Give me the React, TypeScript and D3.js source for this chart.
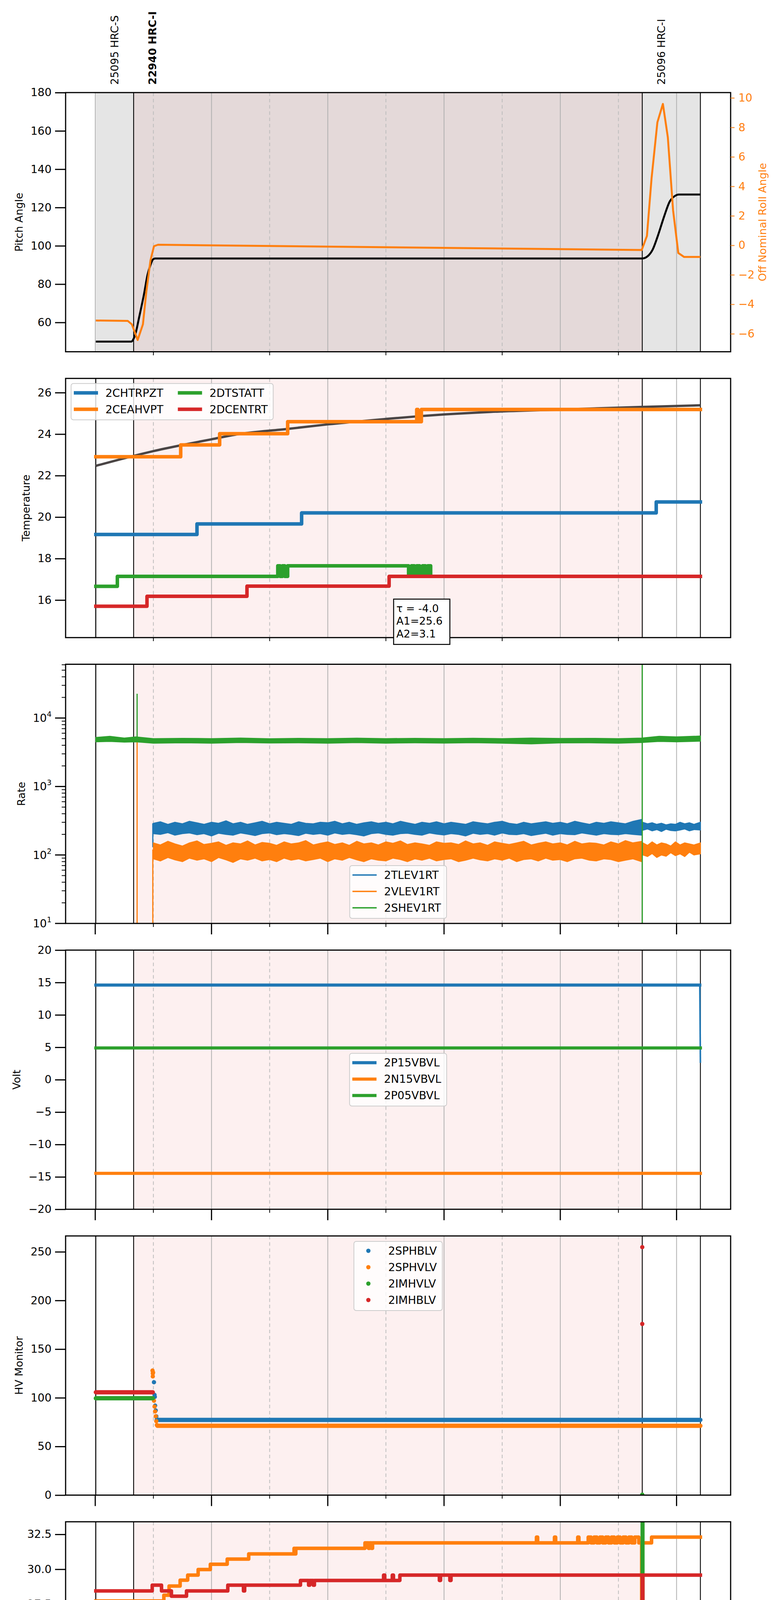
import React, { useRef, useEffect } from 'react';
import * as d3 from 'd3';

const FONT = "'DejaVu Sans', 'Liberation Sans', sans-serif";
const C_BLUE = '#1f77b4';
const C_ORANGE = '#ff7f0e';
const C_GREEN = '#2ca02c';
const C_RED = '#d62728';

// times are decimal hours on 2021-07-28
const tStart = 12.01;
const tObs1 = 12.66;
const tObs2 = 21.41;
const tEnd = 22.41;

const obsNames = ['25095 HRC-S', '22940 HRC-I', '25096 HRC-I'];
const obsTimes = [12.01, 12.66, 21.41];
const obsBold = [false, true, false];
const majorHours = [12, 14, 16, 18, 20, 22];
const minorHours = [13, 15, 17, 19, 21];

// panel 1: pitch / roll
const pitchT = [12.01, 12.62, 12.66, 12.70, 12.75, 12.84, 12.90, 12.95, 12.99, 13.03, 21.41, 21.50, 21.59, 21.68, 21.79, 21.88, 21.97, 22.04, 22.41];
const pitchV = [50, 50, 51.5, 55, 62, 75, 85, 90, 92.8, 93.4, 93.4, 94.5, 98.1, 105.4, 115.7, 123, 126, 126.8, 126.8];
const rollT = [12.01, 12.56, 12.63, 12.73, 12.82, 12.88, 12.95, 13.01, 13.08, 21.40, 21.49, 21.57, 21.67, 21.765, 21.85, 21.94, 22.03, 22.13, 22.41];
const rollV = [-5.1, -5.13, -5.36, -6.42, -5.36, -3.1, -1.03, -0.06, 0.04, -0.32, 0.63, 4.55, 8.34, 9.59, 7.32, 2.38, -0.52, -0.79, -0.79];

// panel 2: temperature
const fitT = [12.01, 12.66, 13.0, 13.47, 14.0, 14.4, 15.31, 16.0, 17.0, 17.6, 18.8, 19.95, 21.41, 22.41];
const fitV = [22.47, 22.95, 23.18, 23.46, 23.75, 23.97, 24.25, 24.47, 24.73, 24.87, 25.07, 25.18, 25.31, 25.39];
const chtrpztT = [12.01, 13.75, 15.55, 21.65];
const chtrpztV = [19.16, 19.67, 20.2, 20.73];
const ceahvptT = [12.01, 13.47, 14.14, 15.31, 17.53, 17.55, 17.61];
const ceahvptV = [22.91, 23.48, 24.02, 24.6, 25.19, 24.6, 25.19];
const dtstattT = [12.01, 12.38, 15.14, 15.18, 15.22, 15.26, 15.31, 17.39, 17.44, 17.49, 17.53, 17.58, 17.63, 17.68, 17.72, 17.77];
const dtstattV = [16.66, 17.14, 17.65, 17.14, 17.65, 17.14, 17.65, 17.14, 17.65, 17.14, 17.65, 17.14, 17.65, 17.14, 17.65, 17.14];
const dcentrtT = [12.01, 12.89, 14.61, 17.055];
const dcentrtV = [15.7, 16.18, 16.67, 17.14];
const fitText = ['\u03c4 = -4.0', 'A1=25.6', 'A2=3.1'];

// panel 3: rates (noisy bands, upper / lower envelope)
const rateT = [13.00, 13.12, 13.25, 13.37, 13.50, 13.62, 13.75, 13.87, 14.00, 14.12, 14.25, 14.37, 14.50, 14.62, 14.75, 14.87, 15.00, 15.12, 15.25, 15.37,
  15.50, 15.62, 15.75, 15.87, 16.00, 16.12, 16.25, 16.37, 16.50, 16.62, 16.75, 16.87, 17.00, 17.12, 17.25, 17.37, 17.50, 17.62, 17.75, 17.87,
  18.00, 18.12, 18.25, 18.37, 18.50, 18.62, 18.75, 18.87, 19.00, 19.12, 19.25, 19.37, 19.50, 19.62, 19.75, 19.87, 20.00, 20.12, 20.25, 20.37,
  20.50, 20.62, 20.75, 20.87, 21.00, 21.12, 21.25, 21.40];
const tlevHi = [290, 305, 280, 300, 285, 310, 295, 280, 300, 290, 315, 285, 300, 280, 295, 310, 285, 300, 290, 280,
  305, 290, 285, 300, 295, 310, 285, 300, 280, 295, 305, 290, 300, 285, 310, 295, 280, 300, 290, 305,
  285, 300, 290, 280, 305, 295, 285, 300, 310, 290, 280, 300, 285, 295, 305, 290, 300, 285, 310, 295,
  280, 300, 290, 305, 295, 285, 310, 330];
const tlevLo = [205, 200, 212, 195, 205, 210, 198, 205, 190, 208, 200, 195, 210, 202, 192, 205, 210, 198, 205, 200,
  192, 208, 200, 205, 195, 210, 200, 205, 198, 190, 205, 210, 200, 195, 205, 208, 200, 195, 210, 202,
  196, 205, 200, 190, 208, 200, 205, 195, 210, 200, 198, 205, 192, 200, 208, 195, 205, 200, 198, 210,
  202, 195, 205, 200, 198, 205, 200, 195];
const vlevHi = [150, 140, 158, 145, 135, 150, 160, 142, 148, 155, 138, 150, 145, 160, 140, 152, 148, 138, 155, 145,
  150, 162, 140, 148, 155, 142, 150, 138, 158, 145, 150, 140, 155, 148, 160, 142, 150, 145, 138, 155,
  148, 150, 142, 160, 145, 150, 138, 155, 148, 142, 150, 158, 140, 148, 155, 145, 150, 140, 158, 145,
  150, 148, 140, 155, 145, 162, 150, 158];
const vlevLo = [88, 82, 92, 85, 80, 90, 84, 88, 80, 92, 85, 78, 88, 84, 90, 82, 86, 80, 90, 84,
  88, 82, 86, 90, 80, 88, 84, 92, 85, 80, 88, 84, 82, 90, 86, 80, 88, 84, 90, 82,
  86, 88, 80, 84, 90, 85, 82, 88, 84, 90, 80, 86, 88, 82, 90, 84, 86, 80, 88, 90,
  84, 82, 88, 86, 80, 84, 88, 80];
const rateT2 = [21.42, 21.50, 21.58, 21.66, 21.74, 21.82, 21.90, 21.98, 22.06, 22.14, 22.22, 22.30, 22.41];
const tlevHi2 = [300, 285, 295, 280, 290, 275, 285, 280, 300, 285, 295, 280, 300];
const tlevLo2 = [230, 240, 225, 235, 220, 238, 228, 225, 232, 240, 225, 235, 232];
const vlevHi2 = [150, 138, 155, 140, 150, 145, 135, 155, 140, 150, 145, 140, 150];
const vlevLo2 = [100, 95, 105, 92, 100, 96, 108, 98, 104, 95, 110, 100, 104];
const shevT = [12.01, 12.25, 12.5, 12.7, 13.0, 13.5, 14.0, 14.5, 15.0, 15.5, 16.0, 16.5, 17.0, 17.5, 18.0, 18.5, 19.0, 19.5, 20.0, 20.5, 21.0, 21.4, 21.7, 22.0, 22.41];
const shevHi = [5200, 5400, 5100, 5300, 5000, 5050, 5000, 5100, 4980, 5050, 5000, 5080, 5000, 5050, 4990, 5060, 5000, 5100, 5020, 5050, 5000, 5100, 5400, 5300, 5450];
const shevLo = [4500, 4550, 4450, 4500, 4300, 4350, 4300, 4400, 4320, 4350, 4300, 4380, 4300, 4350, 4310, 4360, 4300, 4200, 4330, 4350, 4300, 4400, 4550, 4500, 4600];
const vlevEdgeT = [12.01, 12.72, 12.72, 12.99, 12.99];
const vlevEdgeV = [4700, 4700, 1, 1, 120];
const tlevEdgeT = [12.99, 12.99];
const tlevEdgeV = [130, 290];
const shevSpikeT = [12.72, 12.72, 21.41, 21.41];
const shevSpikeV = [4700, 22600, 1, 1e7];

// panel 4: voltages
const p15T = [12.01, 22.40, 22.41];
const p15V = [14.6, 14.6, 2.6];
const n15T = [12.01, 22.41];
const n15V = [-14.45, -14.45];
const p05T = [12.01, 22.41];
const p05V = [4.9, 4.9];

// panel 5: HV monitors (dense constant runs + single samples)
const sphblvRun = [13.07, 22.41, 77.3];
const sphvlvRun = [13.07, 22.41, 71.2];
const imhvlvRun = [12.01, 12.99, 99.5];
const imhblvRun = [12.01, 12.99, 105.7];
const sphblvT = [13.01, 13.02, 13.025, 13.03, 13.04, 13.05, 13.06];
const sphblvV = [116, 103, 101, 92, 87, 81, 78];
const sphvlvT = [12.985, 12.99, 12.99, 12.995, 13.01, 13.02, 13.03, 13.04, 13.05, 13.06];
const sphvlvV = [128, 125, 122, 126, 97, 91, 86, 81, 76, 72];
const imhvlvT = [21.41];
const imhvlvV = [0.5];
const imhblvT = [21.41, 21.41];
const imhblvV = [254.8, 175.9];

// panel 6: detector temps
const spinatmT = [12.01, 12.92, 14.42, 16.31];
const spinatmV = [15.1, 15.73, 16.35, 16.98];
const sphvatmT = [12.01, 13.18, 13.27, 13.46, 13.59, 13.77, 13.98, 14.27, 14.64, 15.42, 15.43, 15.45, 16.64, 16.70, 16.72, 16.75, 16.77,
  19.59, 19.61, 19.90, 19.92, 20.30, 20.32,
  20.48, 20.53, 20.58, 20.63, 20.68, 20.73, 20.78, 20.83, 20.88, 20.93, 20.98, 21.03, 21.08, 21.13, 21.18, 21.23, 21.28, 21.35,
  21.40, 21.41, 21.57];
const sphvatmV = [27.73, 28.14, 28.8, 29.22, 29.58, 29.98, 30.36, 30.73, 31.1, 31.5, 31.1, 31.5, 31.89, 31.5, 31.89, 31.5, 31.89,
  32.3, 31.89, 32.3, 31.89, 32.3, 31.89,
  32.3, 31.89, 32.3, 31.89, 32.3, 31.89, 32.3, 31.89, 32.3, 31.89, 32.3, 31.89, 32.3, 31.89, 32.3, 31.89, 32.3, 31.89,
  5, 31.89, 32.3];
const iminatmT = [12.01, 13.84, 13.87, 13.95, 21.41, 21.42];
const iminatmV = [16.97, 17.6, 16.97, 17.6, 40, 17.6];
const imhvatmT = [12.01, 12.98, 13.14, 13.31, 13.57, 14.28, 14.55, 14.57, 15.53, 15.67, 15.69, 15.75, 15.77, 16.96, 16.98, 17.11, 17.13, 17.24, 17.92, 17.94, 18.10, 18.12, 21.41, 21.42];
const imhvatmV = [28.45, 28.86, 28.45, 28.07, 28.45, 28.86, 28.45, 28.86, 29.2, 28.86, 29.2, 28.86, 29.2, 29.58, 29.2, 29.58, 29.2, 29.58, 29.2, 29.58, 29.2, 29.58, 5, 29.58];

// panel 7: FEA temps
const fhtrmztT = [12.01, 12.45, 13.81, 17.16, 20.55];
const fhtrmztV = [19.68, 20.21, 19.68, 19.16, 18.65];
const fradpytT = [12.01, 12.52, 12.72, 12.78, 12.93, 13.49, 16.24, 19.40, 22.2];
const fradpytV = [15.24, 15.72, 15.24, 15.72, 15.24, 14.78, 14.32, 13.87, 14.32];
const fepratmT = [12.01, 12.98, 13.01, 13.04, 13.07, 13.10, 13.13, 13.16, 13.19, 13.22, 13.25, 13.28, 13.31, 13.34, 13.37, 13.40, 13.45,
  18.08, 18.12, 18.32, 18.35, 18.38, 18.40, 18.42, 21.41, 21.42];
const fepratmV = [21.68, 22.47, 21.68, 22.47, 21.68, 22.47, 21.68, 22.47, 21.68, 22.47, 21.68, 22.47, 21.68, 22.47, 21.68, 22.47, 21.68,
  20.98, 21.68, 20.98, 21.68, 20.98, 21.68, 20.98, 40, 20.98];
const fe00atmT = [12.01, 14.56, 14.60, 14.64, 16.74, 16.79, 16.84, 16.88, 16.93, 18.98, 19.03, 19.08, 19.13, 19.18, 19.22, 19.27, 21.41, 21.42];
const fe00atmV = [20.48, 20.19, 20.48, 20.19, 19.87, 20.19, 19.87, 20.19, 19.87, 19.58, 19.87, 19.58, 19.87, 19.58, 19.87, 19.58, 5, 19.58];
const feSpikeT = [13.072, 13.141, 13.184, 13.252, 13.355, 14.317, 14.48, 14.695, 15.347, 15.664, 15.699, 15.888, 16.454, 16.635, 17.27, 17.52, 17.785,
  18.017, 18.017, 18.248, 18.403, 18.505, 18.626, 18.72, 18.951, 19.038, 19.089, 19.287, 19.407, 19.767, 19.879, 20.119, 20.119, 20.248, 20.463,
  20.523, 20.84, 21.124, 21.321, 21.682, 21.767, 21.913, 21.956, 22.05];
const feSpikeV = [20.83, 20.15, 21.42, 19.85, 20.83, 19.85, 20.83, 19.85, 21.42, 19.55, 20.83, 20.83, 20.83, 20.53, 20.83, 20.2, 19.55,
  20.2, 18.93, 19.55, 19.24, 19.55, 19.55, 20.83, 20.83, 19.55, 19.24, 19.85, 19.85, 20.2, 18.34, 19.85, 18.93, 19.85, 19.24,
  20.83, 20.53, 19.85, 19.85, 19.24, 19.24, 19.24, 19.24, 19.24];

const PL = 168;
const PR = 1871;
const TOP0 = 237;
const STEP = 731.75;
const PH = 663.5;

const pts = (T: number[], V: number[]) => T.map((t, i) => [t, V[i]] as [number, number]);
const steps = (T: number[], V: number[]) => pts(T, V).concat([[tEnd, V[V.length - 1]]]);
const fmtNum = (v: number) => (v < 0 ? '\u2212' + Math.abs(v) : String(v));

export default function App() {
  const svgRef = useRef<SVGSVGElement | null>(null);

  useEffect(() => {
    document.body.style.margin = '0';
    if (!svgRef.current) return;
    const svg = d3.select(svgRef.current);
    svg.selectAll('*').remove();

    const pad = (tEnd - tStart) * 0.05;
    const x = d3.scaleLinear().domain([tStart - pad, tEnd + pad]).range([PL, PR]);
    const defs = svg.append('defs');

    const drawPath = (g: any, data: [number, number][], y: any, color: string, lw: number, curve: any = d3.curveLinear, cap = 'square') => {
      const line = d3.line<[number, number]>().x(d => x(d[0])).y(d => y(d[1])).curve(curve);
      g.append('path').attr('d', line(data)).attr('fill', 'none').attr('stroke', color)
        .attr('stroke-width', lw).attr('stroke-linejoin', 'round').attr('stroke-linecap', cap);
    };
    const drawStep = (g: any, T: number[], V: number[], y: any, color: string, lw: number) =>
      drawPath(g, steps(T, V), y, color, lw, d3.curveStepAfter);

    const drawBand = (g: any, T: number[], hi: number[], lo: number[], y: any, color: string) => {
      const data = T.map((t, i) => [t, lo[i], hi[i]]);
      const area = d3.area<number[]>().x(d => x(d[0])).y0(d => y(d[1])).y1(d => y(d[2]));
      g.append('path').attr('d', area(data)).attr('fill', color).attr('stroke', color).attr('stroke-width', 2.5);
    };

    const leftAxis = (g: any, y: any, ticks: number[], fmt: (v: number) => string) => {
      const ax = g.append('g').attr('transform', `translate(${PL},0)`)
        .call(d3.axisLeft(y).tickValues(ticks).tickSize(27).tickPadding(9).tickFormat(fmt as any));
      ax.select('.domain').remove();
      ax.selectAll('line').attr('stroke', '#000').attr('stroke-width', 3);
      ax.selectAll('text').attr('font-size', 28).attr('font-family', FONT).attr('fill', '#000');
      return ax;
    };

    const yLabel = (g: any, ax: any, text: string, top: number) => {
      const bb = (ax.node() as SVGGElement).getBBox();
      const cx = PL + bb.x - 30;
      g.append('text').attr('transform', `translate(${cx},${top + PH / 2}) rotate(-90)`)
        .attr('text-anchor', 'middle').attr('dominant-baseline', 'central')
        .attr('font-size', 27).attr('font-family', FONT).attr('fill', '#000').text(text);
    };

    const drawLegend = (g: any, items: { label: string; color: string }[], kind: string, lw: number,
      pos: { left?: number; cx?: number; top?: number; cy?: number }) => {
      const lg = g.append('g');
      const rect = lg.append('rect');
      const n = items.length;
      const h = 51 + (n - 1) * 42;
      const texts = items.map(it => lg.append('text').attr('font-size', 28).attr('font-family', FONT)
        .attr('fill', '#000').attr('dy', '0.35em').text(it.label));
      const maxLen = d3.max(texts, t => (t.node() as SVGTextElement).getComputedTextLength()) || 0;
      const w = 88 + maxLen + 14;
      const bx = pos.left !== undefined ? pos.left : (pos.cx as number) - w / 2;
      const by = pos.top !== undefined ? pos.top : (pos.cy as number) - h / 2;
      rect.attr('x', bx).attr('y', by).attr('width', w).attr('height', h).attr('rx', 6)
        .attr('fill', '#fff').attr('fill-opacity', 0.8).attr('stroke', '#cccccc').attr('stroke-width', 2);
      items.forEach((it, i) => {
        const ry = by + 24 + i * 42;
        if (kind === 'dot') {
          lg.append('circle').attr('cx', bx + 37).attr('cy', ry).attr('r', 5.5).attr('fill', it.color);
        } else {
          lg.append('line').attr('x1', bx + 7).attr('x2', bx + 69).attr('y1', ry).attr('y2', ry)
            .attr('stroke', it.color).attr('stroke-width', lw);
        }
        texts[i].attr('x', bx + 88).attr('y', ry);
      });
    };

    const panel = (i: number) => {
      const top = TOP0 + i * STEP;
      const bottom = top + PH;
      const g = svg.append('g');
      const clipId = `clip${i}`;
      defs.append('clipPath').attr('id', clipId).append('rect')
        .attr('x', PL).attr('y', top).attr('width', PR - PL).attr('height', PH);
      // background spans
      if (i === 0) {
        g.append('rect').attr('x', x(tStart)).attr('y', top).attr('width', x(tEnd) - x(tStart)).attr('height', PH).attr('fill', '#e5e5e5');
        g.append('rect').attr('x', x(tObs1)).attr('y', top).attr('width', x(tObs2) - x(tObs1)).attr('height', PH).attr('fill', '#e4d9d9');
      } else {
        g.append('rect').attr('x', x(tObs1)).attr('y', top).attr('width', x(tObs2) - x(tObs1)).attr('height', PH).attr('fill', '#fdf0f0');
      }
      // hour grid
      majorHours.forEach(hh => g.append('line').attr('x1', x(hh)).attr('x2', x(hh)).attr('y1', top).attr('y2', bottom)
        .attr('stroke', '#b0b0b0').attr('stroke-width', 2));
      minorHours.forEach(hh => g.append('line').attr('x1', x(hh)).attr('x2', x(hh)).attr('y1', top).attr('y2', bottom)
        .attr('stroke', '#bdbdbd').attr('stroke-width', 2).attr('stroke-dasharray', '9,7'));
      // observation boundaries
      const bounds = i === 0 ? [tObs1, tObs2, tEnd] : [tStart, tObs1, tObs2, tEnd];
      bounds.forEach(t => g.append('line').attr('x1', x(t)).attr('x2', x(t)).attr('y1', top).attr('y2', bottom)
        .attr('stroke', '#000').attr('stroke-width', 2.2));
      const data = g.append('g').attr('clip-path', `url(#${clipId})`);
      return { g, data, top, bottom };
    };

    const finishPanel = (p: any, i: number) => {
      const { g, top, bottom } = p;
      g.append('rect').attr('x', PL).attr('y', top).attr('width', PR - PL).attr('height', PH)
        .attr('fill', 'none').attr('stroke', '#000').attr('stroke-width', 3);
      if (i >= 2) {
        majorHours.forEach(hh => g.append('line').attr('x1', x(hh)).attr('x2', x(hh)).attr('y1', bottom).attr('y2', bottom + 28)
          .attr('stroke', '#000').attr('stroke-width', 3));
      }
      minorHours.forEach(hh => g.append('line').attr('x1', x(hh)).attr('x2', x(hh)).attr('y1', bottom).attr('y2', bottom + 9)
        .attr('stroke', '#000').attr('stroke-width', 2));
    };

    // ---------- panel 1 ----------
    {
      const p = panel(0);
      const y = d3.scaleLinear().domain([44.7, 180]).range([p.bottom, p.top]);
      const y2 = d3.scaleLinear().domain([-7.22, 10.36]).range([p.bottom, p.top]);
      drawPath(p.data, pts(pitchT, pitchV), y, '#000', 5, d3.curveMonotoneX, 'butt');
      drawPath(p.data, pts(rollT, rollV), y2, C_ORANGE, 5, d3.curveLinear, 'butt');
      finishPanel(p, 0);
      const ax = leftAxis(p.g, y, [60, 80, 100, 120, 140, 160, 180], d => String(d));
      yLabel(p.g, ax, 'Pitch Angle', p.top);
      const rx = p.g.append('g').attr('transform', `translate(${PR},0)`)
        .call(d3.axisRight(y2).tickValues([-6, -4, -2, 0, 2, 4, 6, 8, 10]).tickSize(10).tickPadding(10).tickFormat(fmtNum as any));
      rx.select('.domain').remove();
      rx.selectAll('line').attr('stroke', C_ORANGE).attr('stroke-width', 2);
      rx.selectAll('text').attr('font-size', 28).attr('font-family', FONT).attr('fill', C_ORANGE);
      p.g.append('text').attr('transform', `translate(1952,${p.top + PH / 2}) rotate(-90)`)
        .attr('text-anchor', 'middle').attr('dominant-baseline', 'central')
        .attr('font-size', 27).attr('font-family', FONT).attr('fill', C_ORANGE).text('Off Nominal Roll Angle');
      obsNames.forEach((name, k) => {
        p.g.append('text').attr('transform', `translate(${x(obsTimes[k]) + 58},217) rotate(-90)`)
          .attr('text-anchor', 'start').attr('font-size', 27).attr('font-family', FONT)
          .attr('font-weight', obsBold[k] ? 'bold' : 'normal').attr('fill', '#000').text(name);
      });
    }

    // ---------- panel 2 ----------
    {
      const p = panel(1);
      const y = d3.scaleLinear().domain([14.19, 26.685]).range([p.bottom, p.top]);
      drawPath(p.data, pts(fitT, fitV), y, '#4a4545', 6, d3.curveMonotoneX, 'butt');
      drawStep(p.data, chtrpztT, chtrpztV, y, C_BLUE, 9);
      drawStep(p.data, ceahvptT, ceahvptV, y, C_ORANGE, 9);
      drawStep(p.data, dtstattT, dtstattV, y, C_GREEN, 9);
      drawStep(p.data, dcentrtT, dcentrtV, y, C_RED, 9);
      finishPanel(p, 1);
      const ax = leftAxis(p.g, y, [16, 18, 20, 22, 24, 26], d => String(d));
      yLabel(p.g, ax, 'Temperature', p.top);
      // two-column legend
      const cols = [[{ label: '2CHTRPZT', color: C_BLUE }, { label: '2CEAHVPT', color: C_ORANGE }],
        [{ label: '2DTSTATT', color: C_GREEN }, { label: '2DCENTRT', color: C_RED }]];
      const lg = p.g.append('g');
      const bx = PL + 14;
      const by = p.top + 13;
      const rect = lg.append('rect');
      let cx = bx;
      cols.forEach(col => {
        let maxLen = 0;
        col.forEach((it, r) => {
          const ry = by + 24 + r * 42;
          lg.append('line').attr('x1', cx + 7).attr('x2', cx + 69).attr('y1', ry).attr('y2', ry)
            .attr('stroke', it.color).attr('stroke-width', 9);
          const t = lg.append('text').attr('x', cx + 88).attr('y', ry).attr('dy', '0.35em')
            .attr('font-size', 28).attr('font-family', FONT).attr('fill', '#000').text(it.label);
          maxLen = Math.max(maxLen, (t.node() as SVGTextElement).getComputedTextLength());
        });
        cx = cx + 88 + maxLen + 30;
      });
      rect.attr('x', bx).attr('y', by).attr('width', cx - bx - 16).attr('height', 93).attr('rx', 6)
        .attr('fill', '#fff').attr('fill-opacity', 0.8).attr('stroke', '#cccccc').attr('stroke-width', 2);
      // fit annotation
      const ax0 = PL + 840;
      const ay0 = p.top + 565;
      p.g.append('rect').attr('x', ax0).attr('y', ay0).attr('width', 144).attr('height', 116)
        .attr('fill', '#fff').attr('stroke', '#000').attr('stroke-width', 2.5);
      fitText.forEach((s, k) => p.g.append('text').attr('x', ax0 + 7).attr('y', ay0 + 33 + k * 32.5)
        .attr('font-size', 27).attr('font-family', FONT).attr('fill', '#000').text(s));
    }

    // ---------- panel 3 ----------
    {
      const p = panel(2);
      const y = d3.scaleLog().domain([10, 61000]).range([p.bottom, p.top]);
      drawBand(p.data, rateT, tlevHi, tlevLo, y, C_BLUE);
      drawBand(p.data, rateT2, tlevHi2, tlevLo2, y, C_BLUE);
      drawPath(p.data, pts(tlevEdgeT, tlevEdgeV), y, C_BLUE, 3, d3.curveLinear, 'butt');
      drawBand(p.data, rateT, vlevHi, vlevLo, y, C_ORANGE);
      drawBand(p.data, rateT2, vlevHi2, vlevLo2, y, C_ORANGE);
      drawPath(p.data, pts(vlevEdgeT, vlevEdgeV), y, C_ORANGE, 3, d3.curveLinear, 'butt');
      drawBand(p.data, shevT, shevHi, shevLo, y, C_GREEN);
      drawPath(p.data, pts(shevSpikeT.slice(0, 2), shevSpikeV.slice(0, 2)), y, C_GREEN, 3, d3.curveLinear, 'butt');
      drawPath(p.data, pts(shevSpikeT.slice(2), shevSpikeV.slice(2)), y, C_GREEN, 3, d3.curveLinear, 'butt');
      finishPanel(p, 2);
      const ax = p.g.append('g').attr('transform', `translate(${PL},0)`);
      [1, 2, 3, 4].forEach(k => {
        const v = Math.pow(10, k);
        ax.append('line').attr('x1', -27).attr('x2', 0).attr('y1', y(v)).attr('y2', y(v)).attr('stroke', '#000').attr('stroke-width', 3);
        const t = ax.append('text').attr('x', -36).attr('y', y(v)).attr('dy', '0.35em').attr('text-anchor', 'end')
          .attr('font-size', 28).attr('font-family', FONT).attr('fill', '#000');
        t.append('tspan').text('10');
        t.append('tspan').attr('font-size', 19).attr('dy', -13).text(String(k));
        for (let m = 2; m <= 9; m++) {
          const mv = m * v;
          if (mv > 61000) break;
          ax.append('line').attr('x1', -10).attr('x2', 0).attr('y1', y(mv)).attr('y2', y(mv)).attr('stroke', '#000').attr('stroke-width', 2);
        }
      });
      yLabel(p.g, ax, 'Rate', p.top);
      drawLegend(p.g, [{ label: '2TLEV1RT', color: C_BLUE }, { label: '2VLEV1RT', color: C_ORANGE }, { label: '2SHEV1RT', color: C_GREEN }],
        'line', 3.5, { cx: (PL + PR) / 2, top: p.bottom - 13 - 135 });
    }

    // ---------- panel 4 ----------
    {
      const p = panel(3);
      const y = d3.scaleLinear().domain([-20, 20]).range([p.bottom, p.top]);
      drawPath(p.data, pts(p15T.slice(0, 2), p15V.slice(0, 2)), y, C_BLUE, 8);
      drawPath(p.data, pts(p15T.slice(1), p15V.slice(1)), y, C_BLUE, 4, d3.curveLinear, 'butt');
      drawPath(p.data, pts(n15T, n15V), y, C_ORANGE, 8);
      drawPath(p.data, pts(p05T, p05V), y, C_GREEN, 8);
      finishPanel(p, 3);
      const ax = leftAxis(p.g, y, [-20, -15, -10, -5, 0, 5, 10, 15, 20], fmtNum);
      yLabel(p.g, ax, 'Volt', p.top);
      drawLegend(p.g, [{ label: '2P15VBVL', color: C_BLUE }, { label: '2N15VBVL', color: C_ORANGE }, { label: '2P05VBVL', color: C_GREEN }],
        'line', 8, { cx: (PL + PR) / 2, cy: p.top + PH / 2 });
    }

    // ---------- panel 5 ----------
    {
      const p = panel(4);
      const y = d3.scaleLinear().domain([0, 266.3]).range([p.bottom, p.top]);
      const run = (r: number[], color: string) => p.data.append('line').attr('x1', x(r[0])).attr('x2', x(r[1]))
        .attr('y1', y(r[2])).attr('y2', y(r[2])).attr('stroke', color).attr('stroke-width', 11).attr('stroke-linecap', 'round');
      const dots = (T: number[], V: number[], color: string) => T.forEach((t, k) => p.data.append('circle')
        .attr('cx', x(t)).attr('cy', y(V[k])).attr('r', 5.5).attr('fill', color));
      run(sphblvRun, C_BLUE); dots(sphblvT, sphblvV, C_BLUE);
      run(sphvlvRun, C_ORANGE); dots(sphvlvT, sphvlvV, C_ORANGE);
      run(imhvlvRun, C_GREEN); dots(imhvlvT, imhvlvV, C_GREEN);
      run(imhblvRun, C_RED); dots(imhblvT, imhblvV, C_RED);
      finishPanel(p, 4);
      const ax = leftAxis(p.g, y, [0, 50, 100, 150, 200, 250], d => String(d));
      yLabel(p.g, ax, 'HV Monitor', p.top);
      drawLegend(p.g, [{ label: '2SPHBLV', color: C_BLUE }, { label: '2SPHVLV', color: C_ORANGE }, { label: '2IMHVLV', color: C_GREEN }, { label: '2IMHBLV', color: C_RED }],
        'dot', 0, { cx: (PL + PR) / 2, top: p.top + 14 });
    }

    // ---------- panel 6 ----------
    {
      const p = panel(5);
      const y = d3.scaleLinear().domain([14.84, 33.40]).range([p.bottom, p.top]);
      drawStep(p.data, spinatmT, spinatmV, y, C_BLUE, 9);
      drawStep(p.data, sphvatmT, sphvatmV, y, C_ORANGE, 9);
      drawStep(p.data, iminatmT, iminatmV, y, C_GREEN, 9);
      drawStep(p.data, imhvatmT, imhvatmV, y, C_RED, 9);
      finishPanel(p, 5);
      const ax = leftAxis(p.g, y, [15, 17.5, 20, 22.5, 25, 27.5, 30, 32.5], d => d.toFixed(1));
      yLabel(p.g, ax, 'Detector Temp', p.top);
      drawLegend(p.g, [{ label: '2SPINATM', color: C_BLUE }, { label: '2SPHVATM', color: C_ORANGE }, { label: '2IMINATM', color: C_GREEN }, { label: '2IMHVATM', color: C_RED }],
        'line', 9, { cx: (PL + PR) / 2, cy: p.top + PH / 2 });
    }

    // ---------- panel 7 ----------
    {
      const p = panel(6);
      const y = d3.scaleLinear().domain([12.36, 23.17]).range([p.bottom, p.top]);
      drawStep(p.data, fhtrmztT, fhtrmztV, y, C_BLUE, 9);
      drawStep(p.data, fradpytT, fradpytV, y, C_ORANGE, 9);
      drawStep(p.data, fepratmT, fepratmV, y, C_GREEN, 9);
      drawStep(p.data, fe00atmT, fe00atmV, y, C_RED, 9);
      feSpikeT.forEach((t, k) => {
        let idx = 0;
        fe00atmT.forEach((tt, j) => { if (tt <= t) idx = j; });
        p.data.append('line').attr('x1', x(t)).attr('x2', x(t)).attr('y1', y(fe00atmV[idx])).attr('y2', y(feSpikeV[k]))
          .attr('stroke', C_RED).attr('stroke-width', 6).attr('stroke-linecap', 'round');
      });
      finishPanel(p, 6);
      const ax = leftAxis(p.g, y, [14, 16, 18, 20, 22], d => String(d));
      yLabel(p.g, ax, 'FEA Temp', p.top);
      drawLegend(p.g, [{ label: '2FHTRMZT', color: C_BLUE }, { label: '2FRADPYT', color: C_ORANGE }, { label: '2FEPRATM', color: C_GREEN }, { label: '2FE00ATM', color: C_RED }],
        'line', 9, { left: PL + 14, cy: p.top + PH / 2 });
      // x tick labels
      majorHours.forEach(hh => p.g.append('text').attr('x', x(hh)).attr('y', p.bottom + 60).attr('text-anchor', 'middle')
        .attr('font-size', 28).attr('font-family', FONT).attr('fill', '#000').text(`${hh}h`));
      minorHours.forEach(hh => p.g.append('text').attr('x', x(hh)).attr('y', p.bottom + 22).attr('text-anchor', 'middle')
        .attr('font-size', 18).attr('font-family', FONT).attr('fill', '#000').text(`${hh}h`));
      p.g.append('text').attr('x', (PL + PR) / 2).attr('y', p.bottom + 96).attr('text-anchor', 'middle')
        .attr('font-size', 28).attr('font-family', FONT).attr('fill', '#000').text('2021-07-28 (209)');
    }
  }, []);

  return (
    <div style={{ width: 2000, height: 5400, background: '#fff' }}>
      <svg ref={svgRef} width={2000} height={5400} style={{ display: 'block', background: '#fff' }}></svg>
    </div>
  );
}
